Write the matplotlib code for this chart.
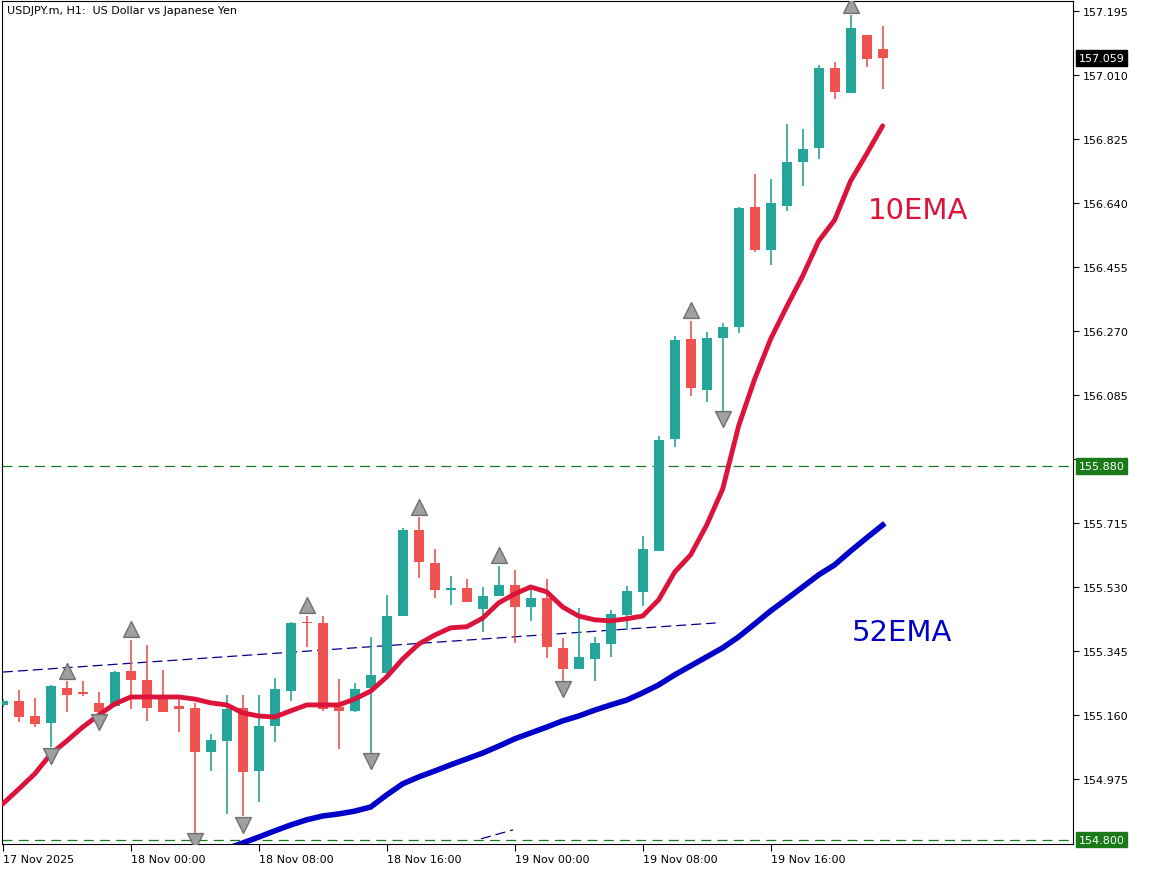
import numpy as np
import matplotlib.pyplot as plt

# hourly candles, USDJPY.m H1
opens = [155.189, 155.200, 155.157, 155.137, 155.238, 155.227, 155.195, 155.186, 155.287, 155.261,
         155.215, 155.186, 155.180, 155.053, 155.085, 155.180, 154.998, 155.128, 155.229, 155.429,
         155.426, 155.183, 155.172, 155.238, 155.281, 155.446, 155.695, 155.600, 155.521, 155.527,
         155.466, 155.504, 155.536, 155.472, 155.498, 155.354, 155.293, 155.322, 155.365, 155.449,
         155.516, 155.634, 155.958, 156.247, 156.100, 156.250, 156.282, 156.629, 156.504, 156.632,
         156.759, 156.799, 157.031, 156.958, 157.126, 157.085]
closes = [155.200, 155.154, 155.134, 155.244, 155.218, 155.221, 155.169, 155.284, 155.261, 155.180,
          155.169, 155.177, 155.053, 155.088, 155.177, 154.995, 155.128, 155.235, 155.426, 155.426,
          155.177, 155.172, 155.235, 155.276, 155.446, 155.695, 155.602, 155.521, 155.527, 155.487,
          155.504, 155.536, 155.472, 155.498, 155.357, 155.293, 155.328, 155.368, 155.452, 155.519,
          155.640, 155.955, 156.244, 156.105, 156.250, 156.282, 156.626, 156.504, 156.640, 156.759,
          156.796, 157.031, 156.961, 157.146, 157.057, 157.059]
highs = [155.206, 155.232, 155.209, 155.247, 155.258, 155.258, 155.227, 155.287, 155.377, 155.362,
         155.290, 155.206, 155.195, 155.105, 155.218, 155.218, 155.218, 155.267, 155.429, 155.446,
         155.446, 155.264, 155.253, 155.386, 155.507, 155.701, 155.732, 155.640, 155.562, 155.553,
         155.530, 155.591, 155.579, 155.527, 155.553, 155.383, 155.469, 155.386, 155.464, 155.533,
         155.678, 155.967, 156.256, 156.299, 156.267, 156.293, 156.629, 156.724, 156.710, 156.869,
         156.854, 157.039, 157.048, 157.184, 157.126, 157.152]
lows = [155.183, 155.140, 155.125, 155.068, 155.169, 155.215, 155.148, 155.183, 155.177, 155.143,
        155.169, 155.111, 154.802, 154.998, 154.874, 154.868, 154.909, 155.082, 155.200, 155.357,
        155.172, 155.062, 155.169, 155.004, 155.264, 155.446, 155.556, 155.498, 155.478, 155.487,
        155.400, 155.504, 155.368, 155.432, 155.325, 155.235, 155.293, 155.258, 155.328, 155.406,
        155.475, 155.634, 155.935, 156.082, 156.065, 156.036, 156.264, 156.499, 156.461, 156.617,
        156.689, 156.767, 156.941, 156.958, 157.033, 156.970]

ema10 = [154.903, 154.946, 154.990, 155.047, 155.085, 155.125, 155.160, 155.192, 155.212, 155.212,
         155.212, 155.212, 155.206, 155.195, 155.189, 155.166, 155.157, 155.154, 155.172, 155.189,
         155.189, 155.189, 155.206, 155.229, 155.270, 155.322, 155.365, 155.391, 155.412, 155.415,
         155.440, 155.484, 155.510, 155.530, 155.516, 155.472, 155.446, 155.435, 155.432, 155.438,
         155.446, 155.493, 155.573, 155.623, 155.709, 155.813, 155.996, 156.131, 156.247, 156.340,
         156.429, 156.530, 156.591, 156.704, 156.782, 156.863]
ema52_start = 14
ema52 = [154.773, 154.790, 154.807, 154.825, 154.842, 154.857, 154.868, 154.874, 154.882, 154.894,
         154.929, 154.961, 154.981, 154.998, 155.016, 155.033, 155.050, 155.070, 155.091, 155.108,
         155.125, 155.143, 155.157, 155.174, 155.189, 155.203, 155.224, 155.247, 155.276, 155.302,
         155.328, 155.354, 155.386, 155.423, 155.461, 155.495, 155.530, 155.565, 155.594, 155.634,
         155.672, 155.709]

up_idx = [4, 8, 19, 26, 31, 43, 53]
up_px = [155.287, 155.409, 155.478, 155.761, 155.623, 156.331, 157.213]
dn_idx = [3, 6, 12, 15, 23, 35, 45]
dn_px = [155.041, 155.140, 154.796, 154.842, 155.027, 155.235, 156.016]

xlabels = ['17 Nov 2025', '18 Nov 00:00', '18 Nov 08:00', '18 Nov 16:00',
           '19 Nov 00:00', '19 Nov 08:00', '19 Nov 16:00']
xlabel_idx = [0, 8, 16, 24, 32, 40, 48]

ymin, ymax = 154.787, 157.224
yticks = [157.195 - 0.185 * k for k in range(13)]

teal = '#26a69a'
red = '#ef5350'

fig = plt.figure(figsize=(11.52, 8.7), dpi=100)
ax = fig.add_axes([2 / 1152, 25 / 870, 1071 / 1152, 843 / 870])

x = np.arange(len(opens))
o = np.array(opens); c = np.array(closes)
cols = [teal if cc >= oo else red for oo, cc in zip(o, c)]
ax.vlines(x, lows, highs, colors=cols, lw=1.2, zorder=2)
body = np.maximum(np.abs(c - o), 0.004)
ax.bar(x, body, bottom=np.minimum(o, c), width=0.62, color=cols, zorder=3)

ax.plot(x, ema10, color='#dc143c', lw=3.5, zorder=4, solid_capstyle='round')
ax.plot(np.arange(ema52_start, ema52_start + len(ema52)), ema52, color='#0000c8', lw=4, zorder=4)

# trend lines
ax.plot([0, 44.56], [155.284, 155.426], color='#00008b', lw=0.9, ls=(0, (8, 4)), zorder=1)
ax.plot([29.9, 31.9], [154.802, 154.828], color='#00008b', lw=0.9, ls=(0, (8, 4)), zorder=1)

# horizontal levels
for lvl in [155.880, 154.800]:
    ax.axhline(lvl, color='#1a7a1a', lw=0.9, ls=(0, (8, 5)), zorder=1)

ax.scatter(up_idx, up_px, marker='^', s=130, color='#a0a0a0', edgecolors='#707070', zorder=5)
ax.scatter(dn_idx, dn_px, marker='v', s=130, color='#a0a0a0', edgecolors='#707070', zorder=5)

ax.text(57.2, 156.62, '10EMA', color='#dc143c', fontsize=21, ha='center', va='center')
ax.text(56.2, 155.40, '52EMA', color='#0000c8', fontsize=21, ha='center', va='center')
ax.text(0.005, 0.995, 'USDJPY.m, H1:  US Dollar vs Japanese Yen', transform=ax.transAxes,
        fontsize=8, va='top', ha='left')

ax.set_xlim(-0.05, 66.9)
ax.set_ylim(ymin, ymax)
ax.yaxis.tick_right()
ax.set_yticks(yticks)
ax.set_yticklabels(['' if abs(v - 155.9) < 0.01 else f'{v:.3f}' for v in yticks], fontsize=8)
ax.set_xticks(xlabel_idx)
ax.set_xticklabels(xlabels, fontsize=8, ha='left')
ax.tick_params(axis='x', length=5, pad=2)
ax.tick_params(axis='y', length=4, pad=3)
for s in ax.spines.values():
    s.set_linewidth(0.8)

# price tags on right axis
bb = dict(boxstyle='square,pad=0.25', fc='#1a7a1a', ec='#1a7a1a')
for lvl in [155.880, 154.800]:
    ax.annotate(f'{lvl:.3f}', xy=(1, lvl), xycoords=('axes fraction', 'data'), xytext=(4, 0),
                textcoords='offset points', va='center', ha='left', fontsize=8, color='white',
                bbox=bb, annotation_clip=False)
ax.annotate(f'{closes[-1]:.3f}', xy=(1, closes[-1]), xycoords=('axes fraction', 'data'), xytext=(4, 0),
            textcoords='offset points', va='center', ha='left', fontsize=8, color='white',
            bbox=dict(boxstyle='square,pad=0.25', fc='black', ec='black'), annotation_clip=False)

fig.savefig('out.png', dpi=100)
